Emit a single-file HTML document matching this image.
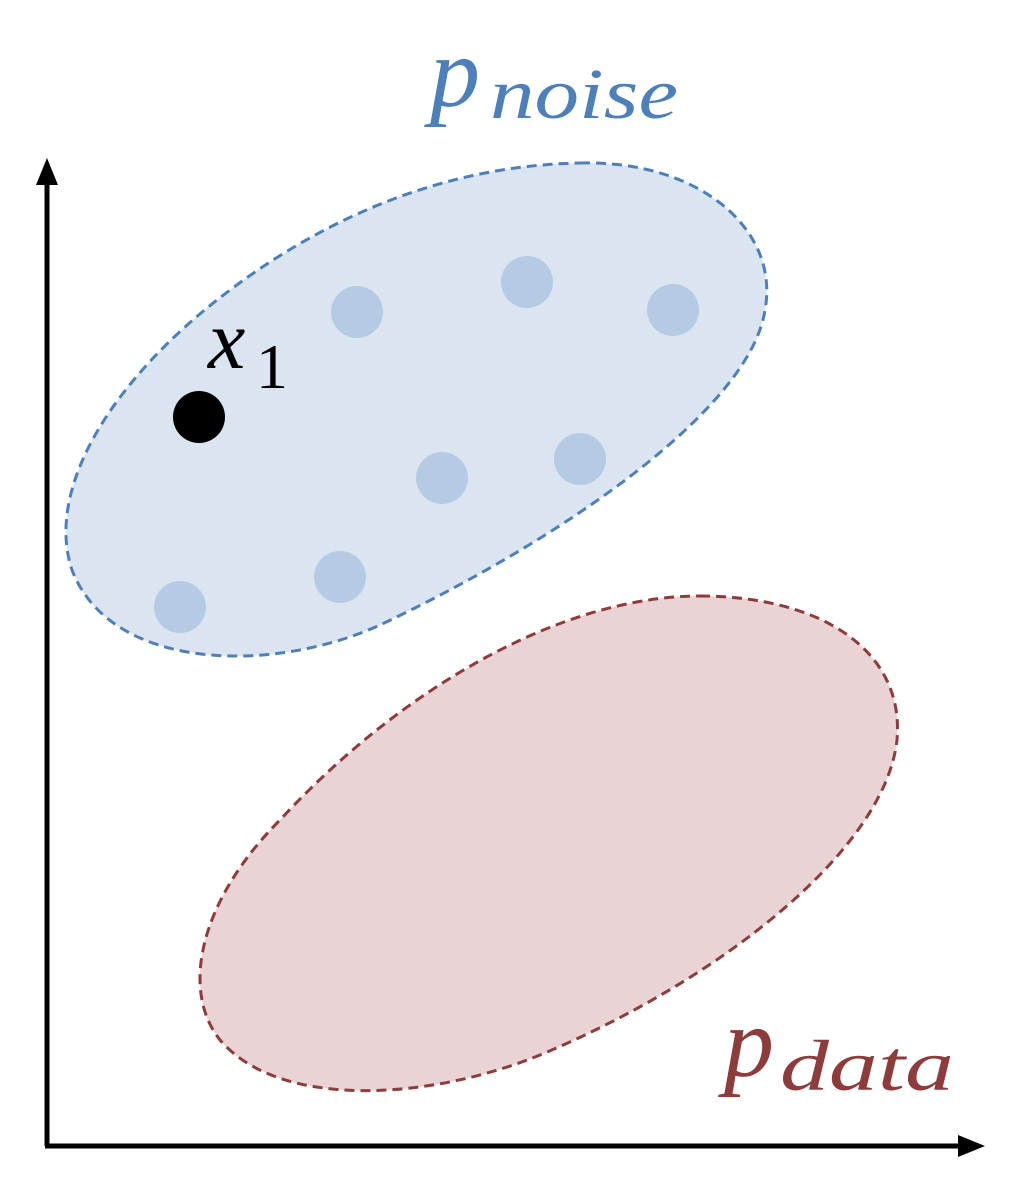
<!DOCTYPE html>
<html><head><style>
html,body{margin:0;padding:0;background:#fff;}
svg{display:block;}
</style></head><body>
<svg width="1018" height="1204" viewBox="0 0 1018 1204" xmlns="http://www.w3.org/2000/svg">
<path d="M 580 163 C 700 160, 780 230, 765 310 C 750 410, 560 540, 380 625 C 270 675, 110 670, 72 570 C 45 490, 110 380, 230 290 C 350 200, 470 165, 580 163 Z" fill="#dae5f1" stroke="#4d7fba" stroke-width="3" stroke-dasharray="10,6"/>
<path d="M 700 596 C 820 596, 905 650, 897 740 C 885 850, 720 980, 540 1055 C 430 1100, 280 1110, 220 1040 C 180 990, 200 900, 280 820 C 400 690, 560 596, 700 596 Z" fill="#ead3d4" stroke="#8d3b3b" stroke-width="3" stroke-dasharray="10,6"/>
<g fill="#b4cbe3">
<circle cx="357" cy="312" r="26"/><circle cx="527" cy="282" r="26"/><circle cx="673" cy="310" r="26"/>
<circle cx="442" cy="478" r="26"/><circle cx="580" cy="459" r="26"/><circle cx="340" cy="577" r="26"/>
<circle cx="180" cy="607" r="26"/>
</g>
<circle cx="199" cy="417" r="26" fill="#000"/>
<line x1="47" y1="175" x2="47" y2="1146" stroke="#000" stroke-width="5"/>
<polygon points="47,158 36,185 58,185" fill="#000"/>
<line x1="45" y1="1146" x2="965" y2="1146" stroke="#000" stroke-width="5"/>
<polygon points="985,1146 958,1135 958,1157" fill="#000"/>
<text x="430" y="106" font-family="Liberation Serif, serif" font-style="italic" font-size="100" fill="#4d7fba">p</text>
<text x="490" y="118" font-family="Liberation Serif, serif" font-style="italic" font-size="72" fill="#4d7fba" textLength="188" lengthAdjust="spacingAndGlyphs">noise</text>
<text x="724" y="1076" font-family="Liberation Serif, serif" font-style="italic" font-size="100" fill="#8d3b3b">p</text>
<text x="780" y="1090" font-family="Liberation Serif, serif" font-style="italic" font-size="72" fill="#8d3b3b" textLength="174" lengthAdjust="spacingAndGlyphs">data</text>
<text x="208" y="368" font-family="Liberation Serif, serif" font-style="italic" font-size="84" fill="#000">x</text>
<text x="256" y="388" font-family="Liberation Serif, serif" font-size="64" fill="#000">1</text>
</svg>
</body></html>
